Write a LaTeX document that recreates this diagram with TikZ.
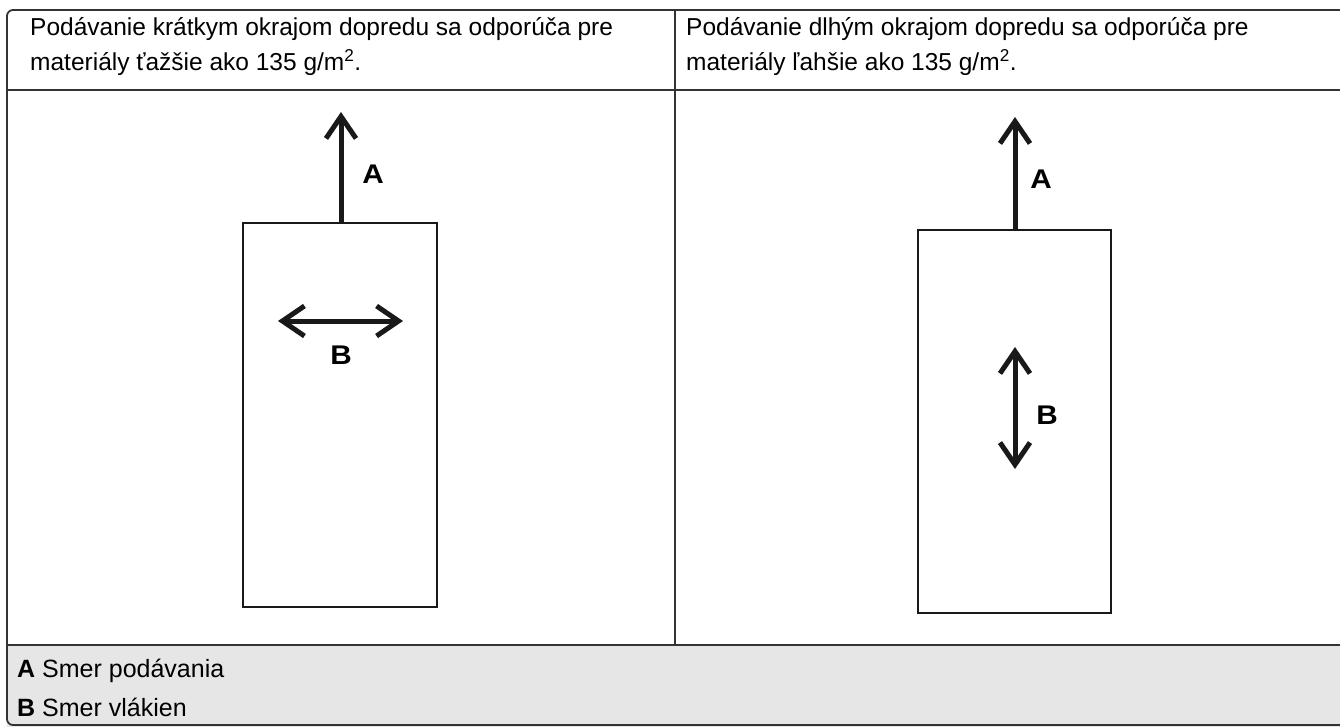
\documentclass[tikz,border=0pt]{standalone}
\usepackage{fontspec}
\setmainfont{Liberation Sans}
\usetikzlibrary{arrows.meta}
\definecolor{rule}{HTML}{333333}
\definecolor{footgray}{HTML}{E6E6E6}
\begin{document}
\begin{tikzpicture}[x=1pt,y=-1pt,
  txt/.style={inner sep=0pt,font=\fontsize{24.5}{35}\selectfont},
  lbl/.style={inner sep=0pt,font=\fontsize{27}{30}\selectfont\bfseries,xscale=1.1},
  sheet/.style={draw=black!90,line width=2.5pt,minimum width=194pt,minimum height=384pt,inner sep=0pt},
  arr/.style={line width=5pt,draw=black!90,-{Straight Barb[length=22pt,width=30pt]}},
  darr/.style={line width=5pt,draw=black!90,{Straight Barb[length=22pt,width=30pt]}-{Straight Barb[length=22pt,width=30pt]}},
  tline/.style={draw=rule,line width=1.8pt}]
\useasboundingbox (0,0) rectangle (1340,727);
\clip (0,0) rectangle (1340,727);
% footer fill
\fill[footgray] (7,645) rectangle (1360,740);
% table lines
\draw[tline,rounded corners=6pt] (1360,10) -- (7,10) -- (7,725) -- (1360,725);
\draw[tline] (7,90) -- (1360,90);
\draw[tline] (7,645) -- (1360,645);
\draw[tline] (675,10) -- (675,645);
% header texts
\node[txt,anchor=base west] (h1a) at (30,36) {Podávanie krátkym okrajom dopredu sa odporúča pre};
\node[txt,anchor=base west] (h1b) at (30,71) {materiály ťažšie ako 135 g/m\textsuperscript{2}.};
\node[txt,anchor=base west] (h2a) at (686,36) {Podávanie dlhým okrajom dopredu sa odporúča pre};
\node[txt,anchor=base west] (h2b) at (686,71) {materiály ľahšie ako 135 g/m\textsuperscript{2}.};
% left sheet
\node[sheet] (s1) at (340,415) {};
\coordinate (s1a) at (341,223);
\coordinate (s1tip) at (341,112);
\draw[arr] (s1a) -- (s1tip);
\coordinate (s1bl) at (278,321);
\coordinate (s1br) at (403,321);
\draw[darr] (s1bl) -- (s1br);
\node[lbl] (la1) at (373,174) {A};
\node[lbl] (lb1) at (341,355) {B};
% right sheet
\node[sheet,minimum width=193pt,minimum height=383pt] (s2) at (1014.5,421.5) {};
\coordinate (s2a) at (1015,230);
\coordinate (s2tip) at (1015,117);
\draw[arr] (s2a) -- (s2tip);
\coordinate (s2bt) at (1015,347);
\coordinate (s2bb) at (1015,469);
\draw[darr] (s2bt) -- (s2bb);
\node[lbl] (la2) at (1041,179) {A};
\node[lbl] (lb2) at (1047,415) {B};
% legend
\node[txt,anchor=base west,font=\fontsize{25}{35}\selectfont] (kA) at (17,677) {\textbf{A} Smer podávania};
\node[txt,anchor=base west,font=\fontsize{25}{35}\selectfont] (kB) at (17,716) {\textbf{B} Smer vlákien};
\end{tikzpicture}
\end{document}
